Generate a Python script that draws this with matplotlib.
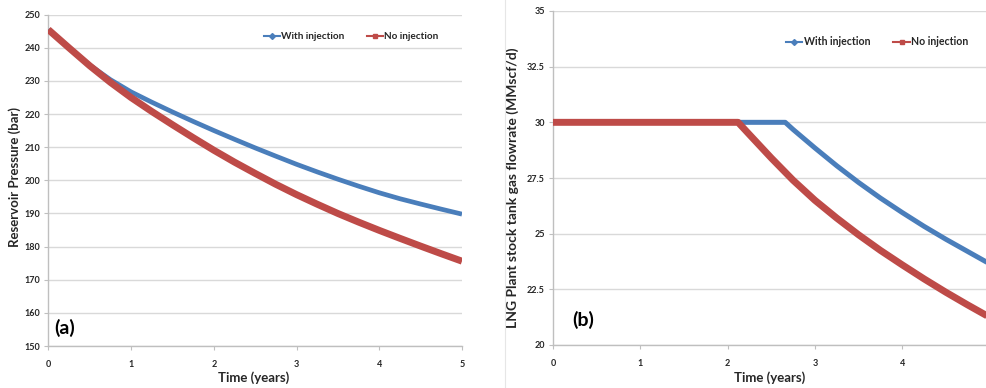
import matplotlib
matplotlib.use("Agg")
import matplotlib.pyplot as plt
from matplotlib.lines import Line2D

plt.rcParams['font.family'] = ['Lato', 'DejaVu Sans']

# ---------------- data ----------------
# (a) Reservoir pressure (bar) vs time (years)
time_a = [0, 0.25, 0.5, 0.75, 1.0, 1.25, 1.5, 1.75, 2.0, 2.25, 2.5,
          2.75, 3.0, 3.25, 3.5, 3.75, 4.0, 4.25, 4.5, 4.75, 5.0]
pres_with = [245.5, 240.0, 234.8, 230.4, 226.7, 223.6, 220.65, 217.8, 215.05,
             212.4, 209.8, 207.3, 204.85, 202.55, 200.35, 198.25, 196.25,
             194.45, 192.85, 191.3, 189.8]
pres_no = [245.5, 240.0, 234.6, 229.6, 225.0, 220.8, 216.8, 212.9, 209.1,
           205.5, 202.1, 198.8, 195.7, 192.8, 190.0, 187.4, 184.9, 182.5,
           180.15, 177.85, 175.6]

# (b) LNG plant stock tank gas flowrate (MMscf/d) vs time (years)
time_b_with = [0, 2.66, 2.75, 3.0, 3.25, 3.5, 3.75, 4.0, 4.25, 4.5, 4.75, 5.0]
flow_with = [30.0, 30.0, 29.68, 28.85, 28.05, 27.3, 26.6, 25.95, 25.33, 24.75,
             24.2, 23.65]
time_b_no = [0, 2.12, 2.25, 2.5, 2.75, 3.0, 3.25, 3.5, 3.75, 4.0, 4.25,
             4.5, 4.75, 5.0]
flow_no = [30.0, 30.0, 29.45, 28.4, 27.4, 26.5, 25.7, 24.95, 24.25, 23.6,
           22.97, 22.37, 21.8, 21.25]

series_names = ["With injection", "No injection"]
xticks = [0, 1, 2, 3, 4, 5]
yticks_a = [150, 160, 170, 180, 190, 200, 210, 220, 230, 240, 250]
yticks_b = [20, 22.5, 25, 27.5, 30, 32.5, 35]
ytick_labels_b = ["20", "22.5", "25", "27.5", "30", "32.5", "35"]

BLUE = '#4a7ebb'
RED = '#be4b48'
GRID = '#d9d9d9'
SPINE = '#bfbfbf'
TXT = '#262626'

fig = plt.figure(figsize=(9.87, 3.88), dpi=100)

W, H = 987.0, 388.0
def axes_px(x0, x1, ytop, ybot):
    return [x0 / W, (H - ybot) / H, (x1 - x0) / W, (ybot - ytop) / H]

ax1 = fig.add_axes(axes_px(48.3, 462.0, 14.7, 346.0))
ax2 = fig.add_axes(axes_px(553.0, 989.5, 11.0, 345.0))

# faint border of right chart
fig.add_artist(Line2D([505 / W, 505 / W], [0, 1], color='#e6e6e6', lw=0.8,
                      transform=fig.transFigure))

def style(ax, yticks, ylabels, ylim):
    ax.set_xlim(0, 5)
    ax.set_ylim(*ylim)
    ax.set_xticks(xticks)
    ax.set_xticklabels([str(t) for t in xticks])
    ax.set_yticks(yticks)
    ax.set_yticklabels(ylabels)
    ax.grid(axis='y', color=GRID, lw=1.0)
    ax.set_axisbelow(True)
    for s in ['top', 'right']:
        ax.spines[s].set_visible(False)
    for s in ['left', 'bottom']:
        ax.spines[s].set_color(SPINE)
        ax.spines[s].set_linewidth(1.0)
    ax.tick_params(axis='both', colors=SPINE, length=3, width=0.8,
                   labelcolor=TXT, labelsize=6.5)
    ax.tick_params(axis='x', pad=7)
    ax.tick_params(axis='y', pad=3)
    for lab in ax.get_xticklabels() + ax.get_yticklabels():
        lab.set_fontweight('bold')

style(ax1, yticks_a, [str(v) for v in yticks_a], (150, 250))
style(ax2, yticks_b, ytick_labels_b, (20, 35))

# lines
ax1.plot(time_a, pres_with, color=BLUE, lw=3.4, solid_capstyle='butt',
         solid_joinstyle='round', zorder=3)
ax1.plot(time_a, pres_no, color=RED, lw=5.0, solid_capstyle='butt',
         solid_joinstyle='round', zorder=4)
ax2.plot(time_b_with, flow_with, color=BLUE, lw=3.6, solid_capstyle='butt',
         solid_joinstyle='round', zorder=3)
ax2.plot(time_b_no, flow_no, color=RED, lw=5.0, solid_capstyle='butt',
         solid_joinstyle='round', zorder=4)

# labels
lab_kw = dict(fontweight='bold', color=TXT)
ax1.set_xlabel("Time (years)", fontsize=9.5, va='center', **lab_kw)
ax1.xaxis.set_label_coords((254 - 48.3) / (462 - 48.3), -(378 - 346) / (346 - 14.7))
ax1.set_ylabel("Reservoir Pressure (bar)", fontsize=9.5, va='center', **lab_kw)
ax1.yaxis.set_label_coords(-(48.3 - 15) / (462 - 48.3), (346 - 177) / (346 - 14.7))

ax2.set_xlabel("Time (years)", fontsize=9.5, va='center', **lab_kw)
ax2.xaxis.set_label_coords((770 - 553) / (989.5 - 553), -(378 - 345) / (345 - 11))
ax2.set_ylabel("LNG Plant stock tank gas flowrate (MMscf/d)", fontsize=10,
               va='center', **lab_kw)
ax2.yaxis.set_label_coords(-(553 - 513) / (989.5 - 553), (345 - 188) / (345 - 11))

ax1.text(0.04, 0.055, "(a)", transform=ax1.transAxes, fontsize=14,
         fontweight='bold', color='black', ha='center', va='center')
ax2.text(0.069, 0.075, "(b)", transform=ax2.transAxes, fontsize=14,
         fontweight='bold', color='black', ha='center', va='center')

# legends
def make_handles():
    return [Line2D([0], [0], color=BLUE, lw=1.5, marker='D', markersize=3),
            Line2D([0], [0], color=RED, lw=1.5, marker='s', markersize=3.5)]

for ax, anchor, fs in [
        (ax1, ((351 - 48.3) / (462 - 48.3), (346 - 37) / (346 - 14.7)), 7.2),
        (ax2, ((877 - 553) / (989.5 - 553), (345 - 42) / (345 - 11)), 7.6)]:
    leg = ax.legend(make_handles(), series_names, loc='center',
                    bbox_to_anchor=anchor, ncol=2, frameon=False,
                    handlelength=1.6, handletextpad=0.1, columnspacing=2.2,
                    prop={'weight': 'bold', 'size': fs})
    for t in leg.get_texts():
        t.set_color(TXT)

fig.savefig("out.png", dpi=100)
